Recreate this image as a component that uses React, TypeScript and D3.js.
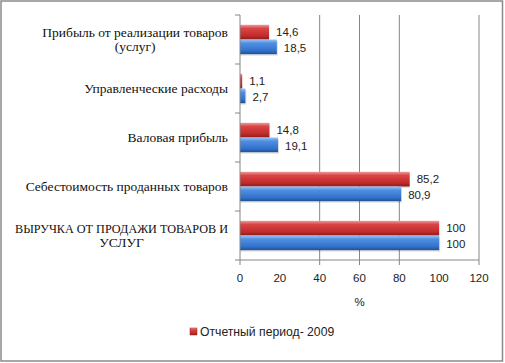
import * as d3 from "d3";
import { useLayoutEffect, useRef, useState } from "react";

const categories = [
  "Прибыль от реализации товаров (услуг)",
  "Управленческие расходы",
  "Валовая прибыль",
  "Себестоимость проданных товаров",
  "ВЫРУЧКА ОТ ПРОДАЖИ ТОВАРОВ И УСЛУГ",
];

// wrapped label lines, as in the picture
const categoryLines = [
  ["Прибыль от реализации товаров", "(услуг)"],
  ["Управленческие расходы"],
  ["Валовая прибыль"],
  ["Себестоимость проданных товаров"],
  ["ВЫРУЧКА ОТ ПРОДАЖИ ТОВАРОВ И", "УСЛУГ"],
];

const report2009 = [14.6, 1.1, 14.8, 85.2, 100];
const base2008 = [18.5, 2.7, 19.1, 80.9, 100];

const seriesNames = ["Отчетный период- 2009", "Базисный период- 2008"];
const xTicks = [0, 20, 40, 60, 80, 100, 120];
// gridlines/ticks that show up in the picture
const shownTicks = [0, 40, 60, 80, 120];

const width = 505;
const height = 363;
const margin = { top: 15, right: 26, bottom: 103, left: 240 };

const serif = "'Liberation Serif', 'DejaVu Serif', serif";
const sans = "'Liberation Sans', Arial, sans-serif";
const maxLabelW = 213;

export default function App() {
  const innerW = width - margin.left - margin.right;
  const innerH = height - margin.top - margin.bottom;
  const labelRef = useRef<SVGGElement>(null);
  const [lineW, setLineW] = useState<number[][]>(categoryLines.map((l) => l.map(() => 0)));

  const x = d3.scaleLinear().domain([0, 120]).range([0, innerW]);
  const y = d3
    .scaleBand<string>()
    .domain(categories)
    .range([0, innerH])
    .paddingInner(0.4)
    .paddingOuter(0.2);
  const sub = d3
    .scaleBand<string>()
    .domain(["r", "b"])
    .range([0, y.bandwidth()]);

  const fmt = (v: number) => String(v).replace(".", ",");
  const step = y.step();

  // measure each label line so wrapped lines centre on the widest one
  useLayoutEffect(() => {
    if (!labelRef.current) return;
    const w = categoryLines.map((lines, i) => {
      const out: number[] = [];
      d3.select(labelRef.current)
        .selectAll<SVGTSpanElement, unknown>(`.lbl${i} tspan`)
        .each(function () {
          out.push(this.getComputedTextLength());
        });
      return out;
    });
    setLineW(w);
  }, []);

  return (
    <svg
      width={width}
      height={height}
      style={{ position: "absolute", left: 0, top: 0, background: "#fff" }}
    >
      <defs>
        <linearGradient id="gRed" x1="0" y1="0" x2="0" y2="1">
          <stop offset="0" stopColor="#f09a9a" />
          <stop offset="0.25" stopColor="#d94444" />
          <stop offset="0.75" stopColor="#c22b2b" />
          <stop offset="1" stopColor="#8e1b1b" />
        </linearGradient>
        <linearGradient id="gBlue" x1="0" y1="0" x2="0" y2="1">
          <stop offset="0" stopColor="#9cc4f5" />
          <stop offset="0.25" stopColor="#4f8fe2" />
          <stop offset="0.75" stopColor="#3372cc" />
          <stop offset="1" stopColor="#21508f" />
        </linearGradient>
      </defs>
      <rect x={1} y={1} width={501.5} height={360} fill="#fff" stroke="#8a8a8a" strokeWidth={1.5} />

      <g transform={`translate(${margin.left},${margin.top})`}>
        {/* gridlines */}
        {shownTicks.filter((t) => t > 0).map((t) => (
          <line key={"g" + t} x1={x(t)} x2={x(t)} y1={0} y2={innerH} stroke="#868686" strokeWidth={1} />
        ))}

        {/* bars */}
        {categories.map((c, i) => {
          const y0 = y(c)!;
          return (
            <g key={c}>
              <rect x={x(0)} y={y0 + sub("r")! + 1.5} width={x(report2009[i])} height={sub.bandwidth()} fill="#000" opacity={0.12} />
              <rect x={x(0)} y={y0 + sub("r")!} width={x(report2009[i])} height={sub.bandwidth()} fill="url(#gRed)" />
              <rect x={x(0)} y={y0 + sub("b")! + 1.5} width={x(base2008[i]) + 1} height={sub.bandwidth()} fill="#000" opacity={0.12} />
              <rect x={x(0)} y={y0 + sub("b")!} width={x(base2008[i])} height={sub.bandwidth()} fill="url(#gBlue)" />
              <text x={x(report2009[i]) + 7} y={y0 + sub("r")! + sub.bandwidth() / 2} dy="0.35em" fontFamily={sans} fontSize={11.5} fill="#222">
                {fmt(report2009[i])}
              </text>
              <text x={x(base2008[i]) + 7} y={y0 + sub("b")! + sub.bandwidth() / 2 + 1} dy="0.35em" fontFamily={sans} fontSize={11.5} fill="#222">
                {fmt(base2008[i])}
              </text>
            </g>
          );
        })}

        {/* y axis */}
        <line x1={0} x2={0} y1={0} y2={innerH} stroke="#868686" />
        {d3.range(categories.length + 1).map((k) => (
          <line key={"yt" + k} x1={-5} x2={0} y1={k * step} y2={k * step} stroke="#868686" />
        ))}
        <g ref={labelRef}>
          {categories.map((c, i) => {
            const lines = categoryLines[i];
            const cy = y(c)! + y.bandwidth() / 2;
            const lh = 14;
            const top = cy - ((lines.length - 1) * lh) / 2;
            const widths = lineW[i];
            const block = Math.min(maxLabelW, d3.max(widths) ?? 0);
            return (
              <text key={"yl" + c} className={"lbl" + i} style={{ fontFamily: serif, fontSize: 13.5 }} fill="#111">
                {lines.map((ln, j) => {
                  const squeeze = widths[j] > maxLabelW;
                  return (
                    <tspan
                      key={j}
                      x={-12 - block / 2}
                      y={top + j * lh}
                      dy="0.35em"
                      textAnchor="middle"
                      textLength={squeeze ? maxLabelW : undefined}
                      lengthAdjust={squeeze ? "spacingAndGlyphs" : undefined}
                    >
                      {ln}
                    </tspan>
                  );
                })}
              </text>
            );
          })}
        </g>

        {/* x axis */}
        <line x1={0} x2={innerW} y1={innerH} y2={innerH} stroke="#868686" />
        {shownTicks.map((t) => (
          <line key={"xt" + t} x1={x(t)} x2={x(t)} y1={innerH} y2={innerH + 5} stroke="#868686" />
        ))}
        {xTicks.map((t) => (
          <text key={"xl" + t} x={x(t)} y={innerH + 18} dy="0.35em" textAnchor="middle" fontFamily={sans} fontSize={11.5} fill="#222">
            {t}
          </text>
        ))}
        <text x={innerW / 2} y={innerH + 42} dy="0.35em" textAnchor="middle" fontFamily={sans} fontSize={11.5} fill="#222">
          %
        </text>
      </g>

      {/* legend */}
      <g transform="translate(190,328)">
        <rect x={0} y={0} width={7} height={7} fill="url(#gRed)" stroke="#a02020" strokeWidth={0.5} />
        <text x={10} y={3.5} dy="0.35em" fontFamily={sans} fontSize={12.2} fill="#222">
          {seriesNames[0]}
        </text>
      </g>
    </svg>
  );
}
